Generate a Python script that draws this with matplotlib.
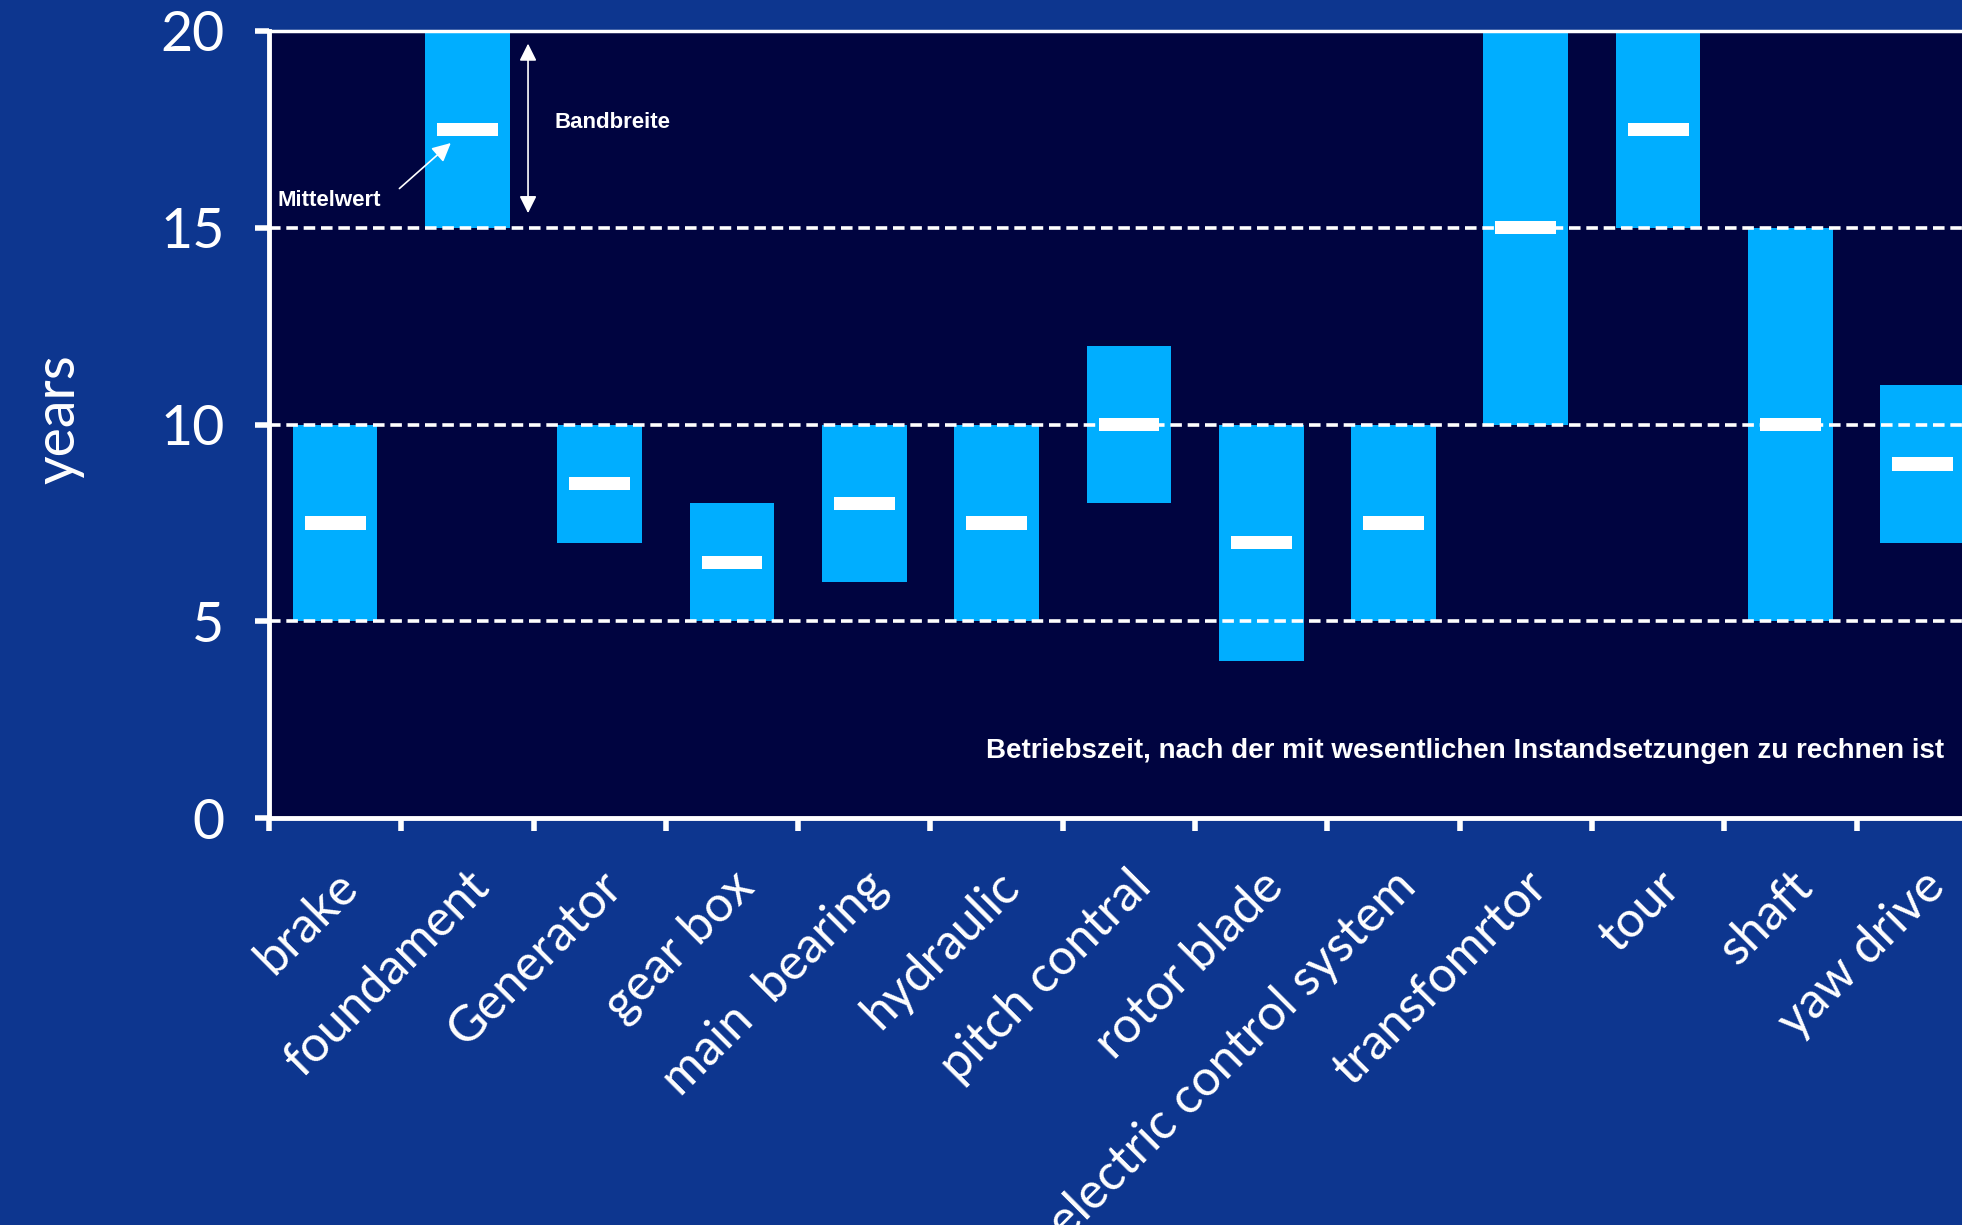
import matplotlib
matplotlib.use("Agg")
import matplotlib.pyplot as plt
import matplotlib.transforms as mtransforms
from matplotlib.ticker import FixedLocator

# Komponenten und Lebensdauer-Bandbreite (Jahre)
komponenten = ["brake", "foundament", "Generator", "gear box", "main  bearing",
               "hydraulic", "pitch contral", "rotor blade", "electric control system",
               "transfomrtor", "tour", "shaft", "yaw drive"]
untergrenze = [5, 15, 7, 5, 6, 5, 8, 4, 5, 10, 15, 5, 7]
obergrenze = [10, 20, 10, 8, 10, 10, 12, 10, 10, 20, 20, 15, 11]
mittelwert = [7.5, 17.5, 8.5, 6.5, 8, 7.5, 10, 7, 7.5, 15, 17.5, 10, 9]
y_ticks = [0, 5, 10, 15, 20]

FIG_BG = "#0d368f"
AX_BG = "#000440"
BALKEN = "#00aeff"

fig = plt.figure(figsize=(19.62, 12.25), dpi=100, facecolor=FIG_BG)
n = len(komponenten)
ax = fig.add_axes([0.1371, 0.3322, 0.8766, 0.6425], facecolor=AX_BG)

x = [i + 0.5 for i in range(n)]
hoehe = [o - u for o, u in zip(obergrenze, untergrenze)]
ax.bar(x, hoehe, bottom=untergrenze, width=0.64, color=BALKEN, zorder=2)
ax.bar(x, [0.34] * n, bottom=[m - 0.17 for m in mittelwert], width=0.46,
       color="white", zorder=3)

for y in [5, 10, 15]:
    ax.axhline(y, color="white", lw=2.6, linestyle=(0, (3.2, 1.6)), zorder=2.5)

ax.set_xlim(0, n)
ax.set_ylim(0, 20)

# Achsen und Ticks
for s in ["left", "bottom", "top"]:
    ax.spines[s].set_color("white")
    ax.spines[s].set_linewidth(3.5)
ax.spines["right"].set_visible(False)
ax.spines["top"].set_linewidth(2.5)

ax.xaxis.set_major_locator(FixedLocator(range(n + 1)))
ax.xaxis.set_minor_locator(FixedLocator(x))
ax.set_xticklabels([], minor=False)
ax.set_xticklabels(komponenten, minor=True, rotation=45, ha="right", va="center",
                   rotation_mode="anchor", fontsize=36, color="white", family="Lato")
ax.tick_params(axis="x", which="major", direction="out", length=9, width=4, color="white")
ax.tick_params(axis="x", which="minor", length=0, pad=44)
verschiebung = mtransforms.ScaledTranslation(0.15, 0, fig.dpi_scale_trans)
for lbl in ax.get_xticklabels(minor=True):
    lbl.set_transform(lbl.get_transform() + verschiebung)

ax.set_yticks(y_ticks)
ax.set_yticklabels([str(v) for v in y_ticks], fontsize=40, color="white", family="Lato")
ax.tick_params(axis="y", direction="out", length=10, width=4, color="white", pad=22)

fig.text(0.03, 0.658, "years", rotation=90, ha="center", va="center",
         fontsize=40, color="white", family="Lato")

# Legende / Hinweise im Diagramm
ax.annotate("", xy=(1.39, 17.2), xytext=(0.97, 15.95),
            arrowprops=dict(arrowstyle="-|>", color="white", lw=1.2,
                            mutation_scale=28), zorder=4)
ax.text(0.066, 15.7, "Mittelwert", ha="left", va="center", fontsize=16,
        fontweight="bold", color="white", family="Liberation Sans")
ax.annotate("", xy=(1.958, 19.75), xytext=(1.958, 15.3),
            arrowprops=dict(arrowstyle="<|-|>", color="white", lw=1.2,
                            mutation_scale=26), zorder=4)
ax.text(2.157, 17.68, "Bandbreite", ha="left", va="center", fontsize=16,
        fontweight="bold", color="white", family="Liberation Sans")
ax.text(5.42, 1.7, "Betriebszeit, nach der mit wesentlichen Instandsetzungen zu rechnen ist",
        ha="left", va="center", fontsize=20, fontweight="bold", color="white",
        family="Liberation Sans")

fig.savefig("out.png", dpi=100, facecolor=FIG_BG)
